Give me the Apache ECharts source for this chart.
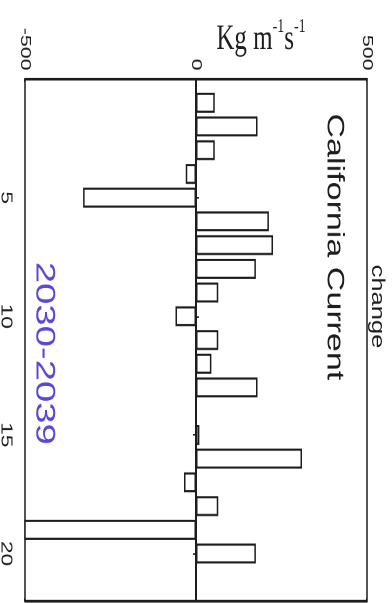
<!DOCTYPE html>
<html>
<head>
<meta charset="utf-8">
<script src="https://cdn.jsdelivr.net/npm/echarts@6/dist/echarts.min.js"></script>
<style>
html,body{margin:0;padding:0;background:#fff;overflow:hidden;width:392px;height:603px;}
#wrap{position:absolute;left:0;top:0;width:425px;height:392px;transform-origin:0 0;
  transform:translate(392px,0) scale(1,1.4188) rotate(90deg);}
#chart{width:425px;height:392px;}
</style>
</head>
<body>
<div id="wrap"><div id="chart"></div></div>
<script>
// Data (category index 0..22; bars at 1..21)
const categories = ['0','1','2','3','4','5','6','7','8','9','10','11','12','13','14','15','16','17','18','19','20','21','22'];
const values = [null, 55, 180, 55, -30, -330, 213, 225, 175, 65, -60, 65, 45, 180, 0, 10, 310, -35, 65, -550, 175, 0, null];
const categoryTickLabels = ['5','10','15','20'];
const valueAxisMin = -500;
const valueAxisMax = 500;
const valueAxisInterval = 500;
const titleText = 'change';
const regionText = 'California Current';
const periodText = '2030-2039';
const unitText = '{a|Kg m}{s|-1}{a|s}{s|-1}';

const ink = '#1c1c1c';
const sans = '"Liberation Sans", Arial, Helvetica, sans-serif';
const serif = '"Liberation Serif", "Times New Roman", serif';

const chart = echarts.init(document.getElementById('chart'), null, {renderer: 'canvas', devicePixelRatio: 2});

const catAxisBase = {
  type: 'category',
  data: categories,
  boundaryGap: false,
  axisLine: {show: true, lineStyle: {color: ink, width: 1.5}},
  axisTick: {show: true, inside: true, length: 3, interval: (i) => i % 5 === 0, lineStyle: {color: ink, width: 1}},
  splitLine: {show: false}
};
const valAxisBase = {
  type: 'value',
  min: valueAxisMin,
  max: valueAxisMax,
  interval: valueAxisInterval,
  axisLine: {show: true, lineStyle: {color: ink, width: 1.5}},
  axisTick: {show: true, inside: true, length: 2, lineStyle: {color: ink, width: 1}},
  splitLine: {show: false}
};

const option = {
  animation: false,
  backgroundColor: '#ffffff',
  grid: {left: 55.7, right: 1.4, top: 25, bottom: 25, show: true, borderColor: ink, borderWidth: 1.5,
         containLabel: false, outerBoundsMode: 'none'},
  xAxis: [
    Object.assign({}, catAxisBase, {
      position: 'bottom',
      axisLabel: {show: true, interval: (i, v) => categoryTickLabels.indexOf(v) >= 0, margin: 11,
                  fontSize: 16, fontFamily: sans, color: ink}
    }),
    Object.assign({}, catAxisBase, {position: 'top', axisLabel: {show: false}})
  ],
  yAxis: [
    Object.assign({}, valAxisBase, {
      position: 'left',
      axisLabel: {show: true, margin: 6, fontSize: 15, fontFamily: sans, color: ink}
    }),
    Object.assign({}, valAxisBase, {position: 'right', axisLabel: {show: false}})
  ],
  series: [{
    type: 'bar',
    xAxisIndex: 0,
    yAxisIndex: 0,
    data: values,
    barWidth: '84%',
    clip: true,
    itemStyle: {color: '#ffffff', borderColor: ink, borderWidth: 1.5},
    emphasis: {disabled: true},
    markLine: {
      silent: true,
      symbol: ['none', 'none'],
      label: {show: false},
      lineStyle: {color: ink, width: 2, type: 'solid'},
      data: [{yAxis: 0}]
    }
  }],
  graphic: [
    {type: 'text', x: 216, y: 15, silent: true,
     style: {text: titleText, fontSize: 18, fontFamily: sans, fill: ink, align: 'center', verticalAlign: 'middle'}},
    {type: 'text', x: 174, y: 58, silent: true,
     style: {text: regionText, fontSize: 24, fontFamily: sans, fill: ink, align: 'center', verticalAlign: 'middle'}},
    {type: 'text', x: 249, y: 348, silent: true,
     style: {text: periodText, fontSize: 27, fontFamily: sans, fill: '#5a48d4', align: 'center', verticalAlign: 'middle'}},
    {type: 'text', x: 28, y: 131, rotation: Math.PI / 2, silent: true,
     style: {text: unitText, fill: ink, align: 'center', verticalAlign: 'middle',
       rich: {
         a: {fontSize: 25, fontFamily: serif, lineHeight: 32, verticalAlign: 'middle', fill: ink},
         s: {fontSize: 14, fontFamily: serif, lineHeight: 16, verticalAlign: 'top', fill: ink}
       }}}
  ]
};
chart.setOption(option);
</script>
</body>
</html>
